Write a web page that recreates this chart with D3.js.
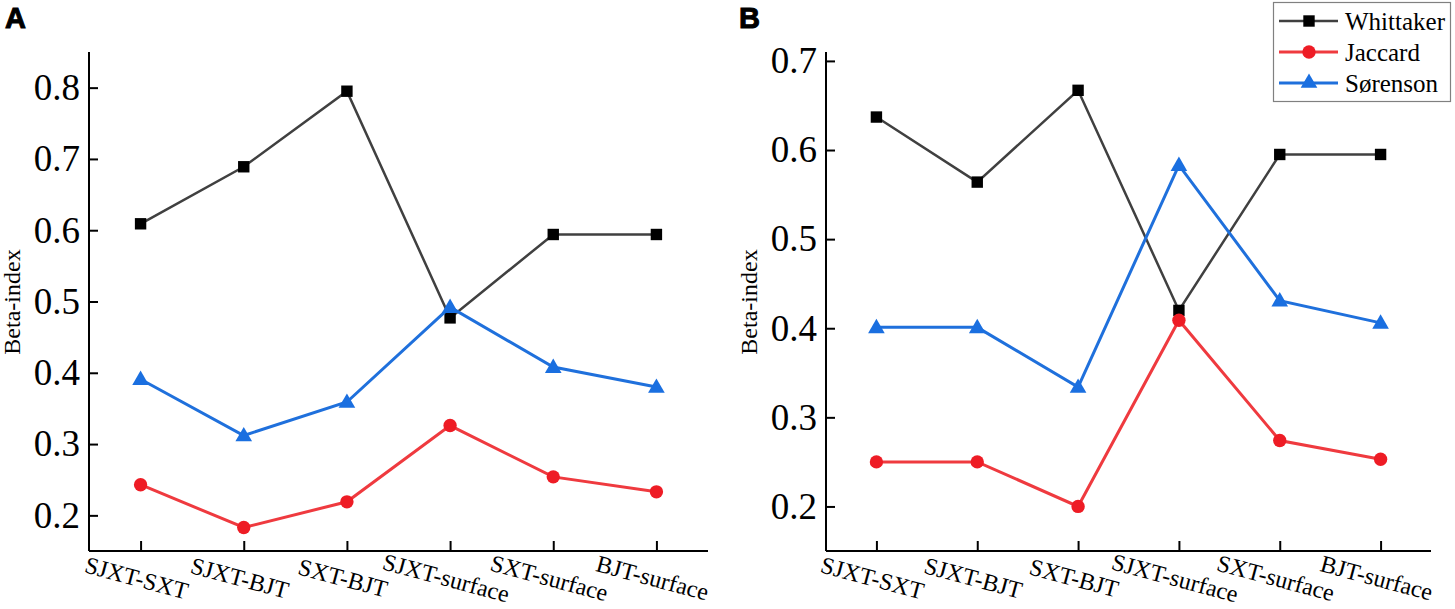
<!DOCTYPE html>
<html>
<head>
<meta charset="utf-8">
<script src="https://cdn.jsdelivr.net/npm/d3@7"></script>
<style>
  body { margin: 0; background: #fff; }
  svg { display: block; }
</style>
</head>
<body>
<svg id="chart" width="1455" height="609"></svg>
<script>
// categories shared by both panels
var categories = ["SJXT-SXT", "SJXT-BJT", "SXT-BJT", "SJXT-surface", "SXT-surface", "BJT-surface"];

// panel A values
var whittakerA = [0.609, 0.689, 0.795, 0.477, 0.594, 0.594];
var jaccardA   = [0.243, 0.183, 0.219, 0.326, 0.254, 0.233];
var sorensonA  = [0.391, 0.312, 0.359, 0.492, 0.408, 0.380];
var ticksA     = [0.2, 0.3, 0.4, 0.5, 0.6, 0.7, 0.8];

// panel B values
var whittakerB = [0.637, 0.564, 0.667, 0.420, 0.595, 0.595];
var jaccardB   = [0.250, 0.250, 0.200, 0.409, 0.274, 0.253];
var sorensonB  = [0.401, 0.401, 0.334, 0.583, 0.431, 0.406];
var ticksB     = [0.2, 0.3, 0.4, 0.5, 0.6, 0.7];

var seriesNames = ["Whittaker", "Jaccard", "Sørenson"];

var styles = {
    "Whittaker": { line: "#404040", fill: "#000000", symbol: d3.symbolSquare, size: 130, width: 2.5 },
    "Jaccard":   { line: "#ef3a3f", fill: "#ee1c25", symbol: d3.symbolCircle, size: 140, width: 3 },
    "Sørenson":  { line: "#1f70dc", fill: "#1a6fe0", symbol: d3.symbolTriangle, size: 120, width: 3 }
};

var svg = d3.select("#chart");
var serif = "Liberation Serif";

function drawPanel(opt) {
    var g = svg.append("g");

    var x = d3.scalePoint()
        .domain(categories)
        .range([opt.left, opt.right])
        .padding(0.5);

    var y = d3.scaleLinear()
        .domain(opt.domain)
        .range([551, 52]);

    // y axis, ticks pointing inward
    var yAxis = g.append("g")
        .attr("transform", "translate(" + opt.left + ",0)")
        .call(d3.axisRight(y).tickValues(opt.ticks).tickSize(9).tickFormat(d3.format(".1f")));
    yAxis.attr("font-family", serif);
    yAxis.select(".domain").attr("d", "M0," + y.range()[1] + "V" + y.range()[0])
        .attr("stroke", "#000").attr("stroke-width", 2);
    yAxis.selectAll(".tick line").attr("stroke", "#000").attr("stroke-width", 2);
    yAxis.selectAll(".tick text")
        .attr("x", -9)
        .attr("text-anchor", "end")
        .style("font-family", serif)
        .attr("font-size", 37)
        .attr("fill", "#000");

    // x axis
    var xAxis = g.append("g")
        .attr("transform", "translate(0,551)")
        .call(d3.axisTop(x).tickSize(10).tickFormat(""));
    xAxis.select(".domain").attr("d", "M" + opt.left + ",0H" + opt.right)
        .attr("stroke", "#000").attr("stroke-width", 2);
    xAxis.selectAll(".tick line").attr("stroke", "#000").attr("stroke-width", 2);

    g.selectAll(".xlab")
        .data(categories)
        .enter().append("text")
        .attr("class", "xlab")
        .attr("transform", function (d) {
            return "translate(" + (x(d) - 4) + ",578) rotate(15)";
        })
        .attr("text-anchor", "middle")
        .attr("dominant-baseline", "central")
        .style("font-family", serif)
        .attr("font-size", 24)
        .text(function (d) { return d; });

    // y title
    g.append("text")
        .attr("transform", "translate(" + opt.titleX + ",302) rotate(-90)")
        .attr("text-anchor", "middle")
        .style("font-family", serif)
        .attr("font-size", 24)
        .text("Beta-index");

    // panel letter
    g.append("text")
        .attr("x", opt.letterX)
        .attr("y", 28)
        .style("font-family", "Liberation Sans")
        .attr("font-weight", "bold")
        .attr("font-size", 29)
        .attr("stroke", "#000")
        .attr("stroke-width", 1)
        .text(opt.letter);

    var line = d3.line()
        .x(function (d, i) { return x(categories[i]); })
        .y(function (d) { return y(d); });

    opt.series.forEach(function (vals, k) {
        var st = styles[seriesNames[k]];
        g.append("path")
            .datum(vals)
            .attr("d", line)
            .attr("fill", "none")
            .attr("stroke", st.line)
            .attr("stroke-width", st.width);
        g.selectAll(".pt" + k)
            .data(vals)
            .enter().append("path")
            .attr("class", "pt" + k)
            .attr("transform", function (d, i) {
                var dy = seriesNames[k] == "Sørenson" ? 1 : 0;
                return "translate(" + x(categories[i]) + "," + (y(d) + dy) + ")";
            })
            .attr("d", d3.symbol().type(st.symbol).size(st.size))
            .attr("fill", st.fill);
    });
}

drawPanel({
    left: 89, right: 708, domain: [0.15, 0.85], ticks: ticksA,
    series: [whittakerA, jaccardA, sorensonA],
    titleX: 20, letter: "A", letterX: 5
});

drawPanel({
    left: 826, right: 1431, domain: [0.15, 0.71], ticks: ticksB,
    series: [whittakerB, jaccardB, sorensonB],
    titleX: 757, letter: "B", letterX: 739
});

// legend
var legend = svg.append("g");
legend.append("rect")
    .attr("x", 1273.5).attr("y", 2.5)
    .attr("width", 177).attr("height", 99)
    .attr("fill", "#fff")
    .attr("stroke", "#808080")
    .attr("stroke-width", 1.2);

var legendY = d3.scalePoint().domain(seriesNames).range([21, 83]);

seriesNames.forEach(function (name) {
    var st = styles[name];
    var ly = legendY(name);
    legend.append("line")
        .attr("x1", 1279).attr("x2", 1338)
        .attr("y1", ly).attr("y2", ly)
        .attr("stroke", st.line)
        .attr("stroke-width", st.width);
    legend.append("path")
        .attr("transform", "translate(1309," + ly + ")")
        .attr("d", d3.symbol().type(st.symbol).size(st.size))
        .attr("fill", st.fill);
    legend.append("text")
        .attr("x", 1345)
        .attr("y", ly)
        .attr("dominant-baseline", "central")
        .style("font-family", serif)
        .attr("font-size", 25)
        .text(name);
});
</script>
</body>
</html>
